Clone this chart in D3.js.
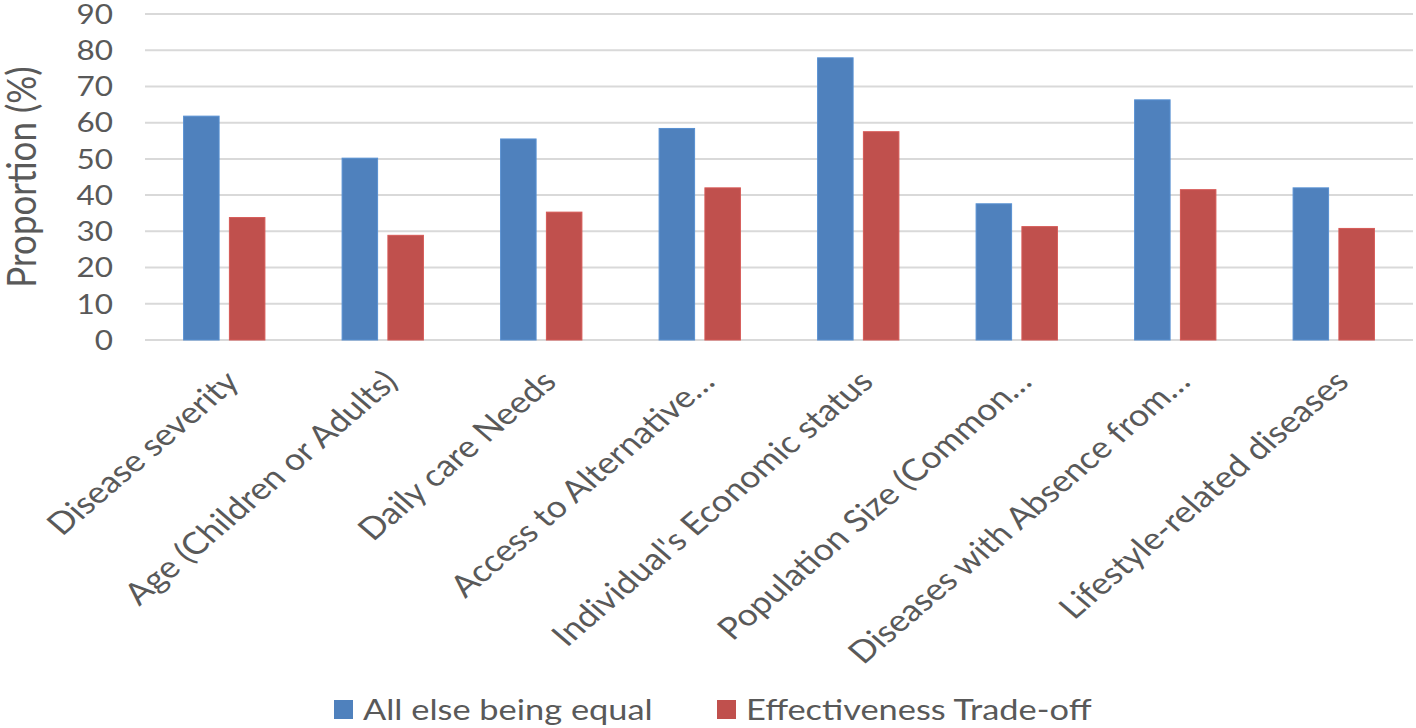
<!DOCTYPE html>
<html>
<head>
<meta charset="utf-8">
<script src="https://cdn.jsdelivr.net/npm/d3@7/dist/d3.min.js"></script>
<style>
  html, body { margin: 0; padding: 0; background: #ffffff; }
  svg { display: block; }
  text { font-family: Lato, "Open Sans", sans-serif; fill: #595959; }
</style>
</head>
<body>
<svg id="chart" width="1416" height="728"></svg>
<script>
const categories = [
  "Disease severity",
  "Age (Children or Adults)",
  "Daily care Needs",
  "Access to Alternative…",
  "Individual's Economic status",
  "Population Size (Common…",
  "Diseases with Absence from…",
  "Lifestyle-related diseases"
];
const seriesNames = ["All else being equal", "Effectiveness Trade-off"];
const allElseEqual = [61.8, 50.2, 55.5, 58.4, 77.9, 37.6, 66.3, 42.0];
const effectivenessTradeoff = [33.8, 28.9, 35.3, 42.0, 57.5, 31.3, 41.5, 30.8];
const yTicks = [0, 10, 20, 30, 40, 50, 60, 70, 80, 90];
const seriesColors = ["#4F81BD", "#C0504D"];
const yTitle = "Proportion (%)";

const svg = d3.select("#chart");
const SX = 1.166; // horizontal stretch of the original picture's text

const plot = { left: 145, right: 1413, top: 14, bottom: 340 };

const x0 = d3.scaleBand().domain(categories).range([plot.left, plot.right]).paddingInner(0).paddingOuter(0);
const groupW = x0.bandwidth() * 0.513;
const x1 = d3.scaleBand().domain(seriesNames).range([0, groupW]).paddingInner(0.225).paddingOuter(0);
const y = d3.scaleLinear().domain([0, 90]).range([plot.bottom, plot.top]);

// gridlines
svg.append("g").selectAll("line").data(yTicks).join("line")
  .attr("x1", plot.left).attr("x2", plot.right)
  .attr("y1", d => y(d)).attr("y2", d => y(d))
  .attr("stroke", "#d9d9d9").attr("stroke-width", 2);

// y tick labels
svg.append("g").selectAll("text").data(yTicks).join("text")
  .attr("transform", d => `translate(113,${y(d)}) scale(${SX},1)`)
  .attr("text-anchor", "end").attr("dy", "0.36em")
  .attr("font-size", 27)
  .text(d => d);

// y title
svg.append("text")
  .attr("transform", `translate(21,${(plot.top + plot.bottom) / 2}) scale(${SX},1) rotate(-90)`)
  .attr("text-anchor", "middle").attr("dy", "0.36em")
  .attr("font-size", 35)
  .text(yTitle);

// bars
const series = [allElseEqual, effectivenessTradeoff];
const groups = svg.append("g").selectAll("g").data(categories).join("g")
  .attr("transform", d => `translate(${x0(d) + (x0.bandwidth() - groupW) / 2},0)`);
groups.selectAll("rect").data((d, i) => seriesNames.map((s, k) => ({ s, k, v: series[k][i] })))
  .join("rect")
  .attr("x", d => x1(d.s))
  .attr("width", x1.bandwidth())
  .attr("y", d => y(d.v))
  .attr("height", d => y(0) - y(d.v))
  .attr("fill", d => seriesColors[d.k])
  .attr("stroke", d => d3.color(seriesColors[d.k]).brighter(0.3))
  .attr("stroke-width", 1);

// x labels
svg.append("g").selectAll("text").data(categories).join("text")
  .attr("transform", d => `translate(${x0(d) + x0.bandwidth() / 2 + 8},376) scale(${SX},1) rotate(-45)`)
  .attr("text-anchor", "end").attr("dy", "0.35em")
  .attr("font-size", 30.5)
  .text(d => d);

// legend
const legendItems = [
  { name: seriesNames[0], color: seriesColors[0], x: 334 },
  { name: seriesNames[1], color: seriesColors[1], x: 717 }
];
const lg = svg.append("g").selectAll("g").data(legendItems).join("g")
  .attr("transform", d => `translate(${d.x},0)`);
lg.append("rect").attr("x", 0).attr("y", 700).attr("width", 19).attr("height", 19).attr("fill", d => d.color);
lg.append("text")
  .attr("transform", `translate(29,709) scale(${SX},1)`)
  .attr("dy", "0.36em").attr("font-size", 29.5)
  .text(d => d.name);
</script>
</body>
</html>
